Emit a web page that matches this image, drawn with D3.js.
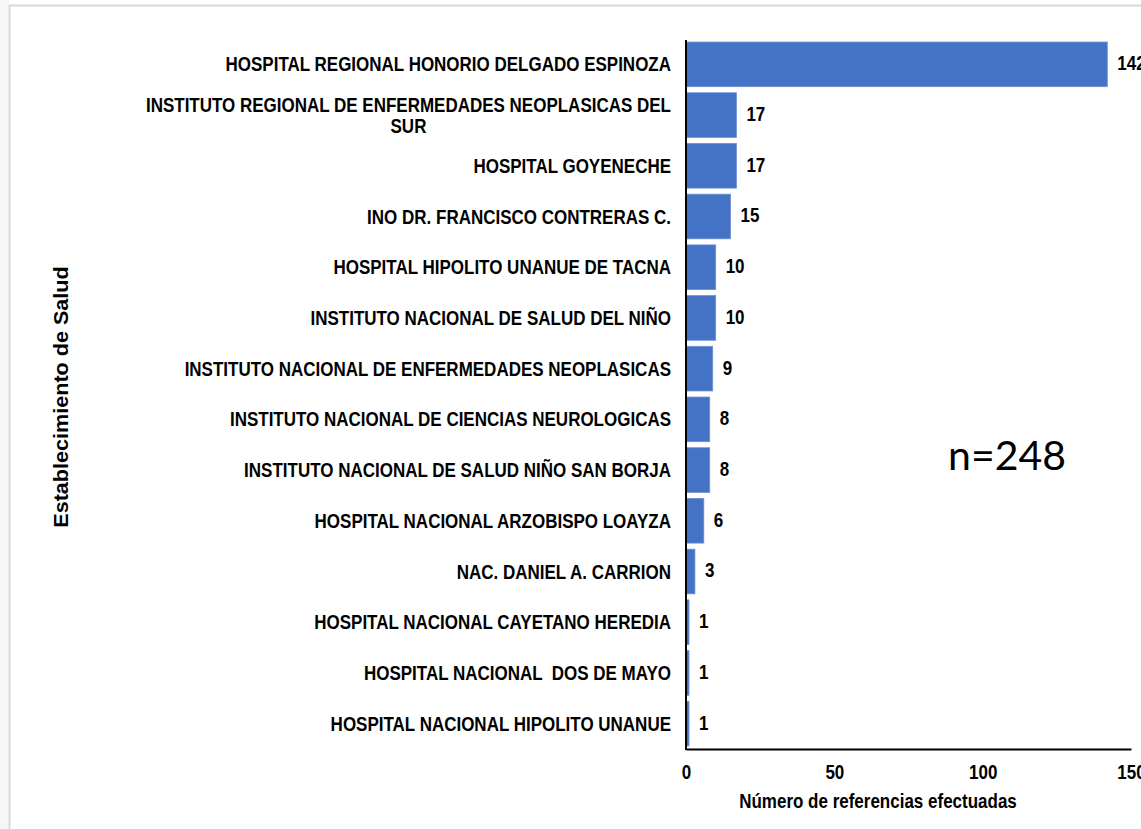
<!DOCTYPE html>
<html><head><meta charset="utf-8">
<script src="https://cdn.jsdelivr.net/npm/d3@7"></script>
<style>body{margin:0;background:#fff}svg{display:block}text{white-space:pre}</style>
</head><body>
<script>
const categories = [
  ["HOSPITAL REGIONAL HONORIO DELGADO ESPINOZA"],
  ["INSTITUTO REGIONAL DE ENFERMEDADES NEOPLASICAS DEL","SUR"],
  ["HOSPITAL GOYENECHE"],
  ["INO DR. FRANCISCO CONTRERAS C."],
  ["HOSPITAL HIPOLITO UNANUE DE TACNA"],
  ["INSTITUTO NACIONAL DE SALUD DEL NIÑO"],
  ["INSTITUTO NACIONAL DE ENFERMEDADES NEOPLASICAS"],
  ["INSTITUTO NACIONAL DE CIENCIAS NEUROLOGICAS"],
  ["INSTITUTO NACIONAL DE SALUD NIÑO SAN BORJA"],
  ["HOSPITAL NACIONAL ARZOBISPO LOAYZA"],
  ["NAC. DANIEL A. CARRION"],
  ["HOSPITAL NACIONAL CAYETANO HEREDIA"],
  ["HOSPITAL NACIONAL  DOS DE MAYO"],
  ["HOSPITAL NACIONAL HIPOLITO UNANUE"]
];
const values = [142,17,17,15,10,10,9,8,8,6,3,1,1,1];
const xTicks = [0,50,100,150];
const xTitle = "Número de referencias efectuadas";
const yTitle = "Establecimiento de Salud";
const note = "n=248";

const W=1141,H=829, SY=1.18;
const svg=d3.select("body").append("svg").attr("width",W).attr("height",H);
svg.append("rect").attr("x",0).attr("y",0).attr("width",9).attr("height",H).attr("fill","#f6f6f6");
svg.append("path").attr("d",`M9.5,${H} V5.5 H${W}`).attr("fill","none").attr("stroke","#d9d9d9").attr("stroke-width",2);

const x=d3.scaleLinear().domain([0,150]).range([686,1131]);
const idx=d3.range(values.length);
const y=d3.scaleBand().domain(idx).range([39,749]).paddingInner(0.12).paddingOuter(0.06);
const font="Liberation Sans, Arial, sans-serif";
function stretch(sel){ // vertical stretch about each text's anchor point
  sel.each(function(){
    const t=d3.select(this), tx=+t.attr("x")||0, ty=+t.attr("y")||0;
    t.attr("transform",`translate(${tx},${ty}) scale(1,${SY}) translate(${-tx},${-ty})`);
  });
}

svg.selectAll("rect.bar").data(idx).join("rect").attr("class","bar")
  .attr("x",x(0)).attr("y",i=>y(i)).attr("width",i=>x(values[i])-x(0)).attr("height",y.bandwidth())
  .attr("fill","#4472C4").attr("stroke","#6b8fd3").attr("stroke-width",0.8);

svg.selectAll("text.val").data(idx).join("text").attr("class","val")
  .attr("x",i=>x(values[i])+10).attr("y",i=>y(i)+y.bandwidth()/2+6)
  .attr("font-family",font).attr("font-weight","bold").attr("font-size",17).attr("fill","#000")
  .text(i=>values[i]).call(stretch);

// category labels
idx.forEach(i=>{
  const lines=categories[i];
  const cy=y(i)+y.bandwidth()/2;
  const g=svg.append("g").attr("transform",`translate(0,${cy}) scale(1,${SY})`);
  const t=g.append("text").attr("font-family",font).attr("font-weight","bold").attr("font-size",17).attr("fill","#000");
  if(lines.length===1){
    t.attr("x",671).attr("y",6).attr("text-anchor","end").text(lines[0]);
  } else {
    const t1=t.append("tspan").attr("x",671).attr("y",-3).attr("text-anchor","end").text(lines[0]);
    const w1=t1.node().getComputedTextLength();
    t.append("tspan").attr("x",671-w1/2).attr("y",15).attr("text-anchor","middle").text(lines[1]);
  }
});

// axes
const xa=svg.append("g").attr("transform","translate(0,749)")
  .call(d3.axisBottom(x).tickValues(xTicks).tickSize(0).tickPadding(0));
xa.select(".domain").attr("stroke","#000").attr("stroke-width",2);
xa.selectAll("text").attr("dy",null).attr("y",30).attr("font-family",font).attr("font-weight","bold").attr("font-size",17).attr("fill","#000").call(stretch);
svg.append("line").attr("x1",686).attr("x2",686).attr("y1",40).attr("y2",750).attr("stroke","#000").attr("stroke-width",2);

svg.append("text").attr("x",878).attr("y",808).attr("text-anchor","middle")
  .attr("font-family",font).attr("font-weight","bold").attr("font-size",17).attr("fill","#000").text(xTitle).call(stretch);
svg.append("text").attr("transform","translate(68,397) rotate(-90) scale(1.08,1)").attr("text-anchor","middle")
  .attr("font-family",font).attr("font-weight","bold").attr("font-size",20).attr("fill","#000").text(yTitle);
svg.append("text").attr("x",948).attr("y",470).attr("font-family","Lato, Carlito, sans-serif")
  .attr("font-size",41).attr("fill","#000").text(note);
</script>
</body></html>
